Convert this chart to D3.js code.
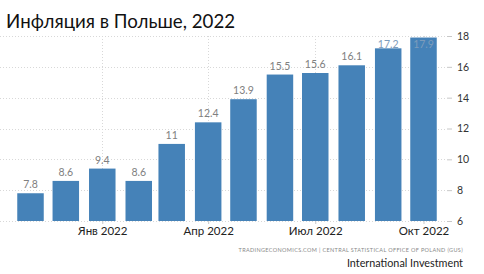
<!DOCTYPE html>
<html lang="ru">
<head>
<meta charset="UTF-8">
<title>Инфляция в Польше, 2022</title>
<script src="https://d3js.org/d3.v7.min.js"></script>
<style>
  body { margin: 0; background: #fff; }
  svg { font-family: Lato, "Open Sans", sans-serif; }
  .grid line { stroke: #d8d8d8; stroke-dasharray: 1,2; }
</style>
</head>
<body>
<div id="chart"></div>
<script>
// months (first day) and CPI y/y values
var months = ["2021-11", "2021-12", "2022-01", "2022-02", "2022-03", "2022-04",
              "2022-05", "2022-06", "2022-07", "2022-08", "2022-09", "2022-10"];
var values = [7.8, 8.6, 9.4, 8.6, 11, 12.4, 13.9, 15.5, 15.6, 16.1, 17.2, 17.9];
var xTickDates = ["2022-01", "2022-04", "2022-07", "2022-10"];
var xTickLabels = ["Янв 2022", "Апр 2022", "Июл 2022", "Окт 2022"];
var yTicks = [6, 8, 10, 12, 14, 16, 18];

var W = 484, H = 274;
var parse = d3.timeParse("%Y-%m");
var data = months.map(function(m, i) { return {date: parse(m), value: values[i]}; });

var svg = d3.select("#chart").append("svg")
    .attr("width", W).attr("height", H);

var x = d3.scaleTime()
    .domain([parse("2021-11"), parse("2022-10")])
    .range([30.5, 423.5]);
var y = d3.scaleLinear().domain([6, 18]).range([221, 36]);

// grid
var grid = svg.append("g").attr("class", "grid");
grid.selectAll(".h").data(yTicks).enter().append("line")
    .attr("x1", 0).attr("x2", 447)
    .attr("y1", function(d) { return Math.round(y(d)) + 0.5; })
    .attr("y2", function(d) { return Math.round(y(d)) + 0.5; });
grid.selectAll(".v").data(xTickDates).enter().append("line")
    .attr("x1", function(d) { return Math.round(x(parse(d))) + 0.5; })
    .attr("x2", function(d) { return Math.round(x(parse(d))) + 0.5; })
    .attr("y1", 36).attr("y2", 221);

// bars
var bw = 26.5;
svg.append("g").selectAll("rect").data(data).enter().append("rect")
    .attr("x", function(d) { return x(d.date) - bw / 2; })
    .attr("width", bw)
    .attr("y", function(d) { return y(d.value); })
    .attr("height", function(d) { return y(6) - y(d.value); })
    .attr("fill", "#4582b8");

// value labels
svg.append("g").selectAll("text").data(data).enter().append("text")
    .attr("x", function(d) { return x(d.date); })
    .attr("y", function(d) { return Math.max(y(d.value) - 5, 48); })
    .attr("text-anchor", "middle")
    .attr("font-size", 10.5)
    .attr("fill", function(d) { return y(d.value) - 5 < 48 ? "#7d9cbb" : "#808080"; })
    .text(function(d) { return d.value; });

// y axis on right
var yAxis = svg.append("g").attr("transform", "translate(447,0)")
    .call(d3.axisRight(y).tickValues(yTicks).tickSize(5).tickPadding(5));
yAxis.select(".domain").remove();
yAxis.selectAll("line").attr("stroke", "#c8c8c8");
yAxis.selectAll("text").attr("font-size", 10.5).attr("fill", "#333")
    .attr("font-family", "Lato, sans-serif");

// x axis
var xAxis = svg.append("g").attr("transform", "translate(0,221)")
    .call(d3.axisBottom(x).tickValues(xTickDates.map(parse))
        .tickFormat(function(d, i) { return xTickLabels[i]; })
        .tickSize(3).tickPadding(3));
xAxis.select(".domain").remove();
xAxis.selectAll("line").attr("stroke", "#c8c8c8");
xAxis.selectAll("text").attr("font-size", 11.5).attr("fill", "#222")
    .attr("font-family", "Lato, sans-serif");

// title
svg.append("text").attr("x", 6).attr("y", 28)
    .attr("font-size", 18.7).attr("fill", "#111")
    .text("Инфляция в Польше, 2022");

// source
svg.append("text").attr("x", 463).attr("y", 252)
    .attr("text-anchor", "end").attr("font-size", 5.5).attr("fill", "#888")
    .attr("letter-spacing", 0.35)
    .text("TRADINGECONOMICS.COM  |  CENTRAL STATISTICAL OFFICE OF POLAND (GUS)");

svg.append("text").attr("x", 463).attr("y", 267)
    .attr("text-anchor", "end").attr("font-size", 10.8).attr("fill", "#222")
    .text("International Investment");
</script>
</body>
</html>
